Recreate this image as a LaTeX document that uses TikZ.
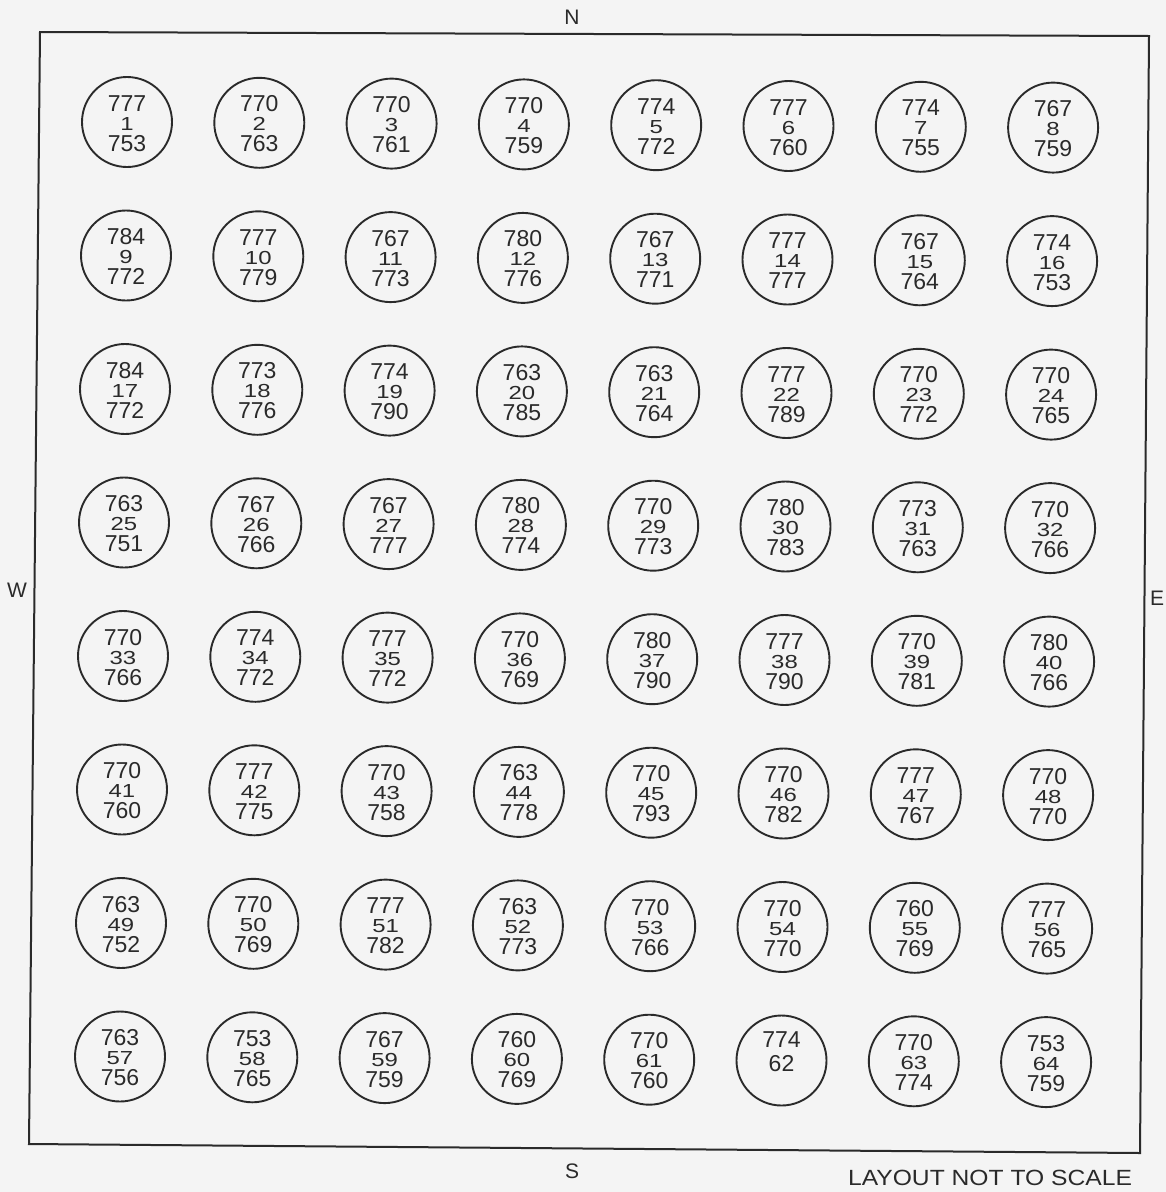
\documentclass[tikz,border=0pt]{standalone}
\usepackage{fontspec}
\setmainfont{Liberation Sans}
\definecolor{ink}{HTML}{2A2A2A}
\definecolor{paper}{HTML}{F4F4F4}
\tikzset{
  well/.style={circle, draw=ink, line width=1.9pt, minimum size=90pt, inner sep=0pt},
  outernum/.style={anchor=base, inner sep=0pt, text=ink, font=\fontsize{23}{23}\selectfont},
  innernum/.style={anchor=base, inner sep=0pt, text=ink, font=\fontsize{23}{23}\selectfont},
  compass/.style={inner sep=0pt, text=ink, font=\fontsize{21}{21}\selectfont},
  frameline/.style={draw=ink, line width=2pt, line join=miter}
}
% #1 well number, #2 column, #3 row, #4 top value, #5 bottom value
\newcommand\wellcell[5]{%
  \pgfmathsetmacro\wx{127+132.3*(#2-1)-1.0*(#3-1)}%
  \pgfmathsetmacro\wy{122+133.5*(#3-1)+0.8*(#2-1)}%
  \node[well] (w#1) at (\wx,\wy) {};
  \node[outernum] (w#1t) at ([yshift=11pt]w#1.center) {#4};
  \node[innernum] (w#1m) at ([yshift=-8pt]w#1.center) {\scalebox{1.04}[0.82]{#1}};
  \node[outernum] (w#1b) at ([yshift=-29pt]w#1.center) {#5};
}
\begin{document}
\begin{tikzpicture}[x=1pt,y=-1pt]
\useasboundingbox (0,0) rectangle (1166,1192);
\fill[paper] (0,0) rectangle (1166,1192);
\draw[frameline] (40,32) -- (1149,36) -- (1140,1153) -- (29,1144) -- cycle;
\node[compass] (north) at (572,17) {N};
\node[compass] (south) at (572,1171) {S};
\node[compass] (west) at (17,590) {W};
\node[compass] (east) at (1157,598) {E};
\node[inner sep=0pt, text=ink, font=\fontsize{22}{22}\selectfont] (note) at (990,1178) {\scalebox{1.12}[1]{LAYOUT NOT TO SCALE}};
% row 1
\wellcell{1}{1}{1}{777}{753}
\wellcell{2}{2}{1}{770}{763}
\wellcell{3}{3}{1}{770}{761}
\wellcell{4}{4}{1}{770}{759}
\wellcell{5}{5}{1}{774}{772}
\wellcell{6}{6}{1}{777}{760}
\wellcell{7}{7}{1}{774}{755}
\wellcell{8}{8}{1}{767}{759}
% row 2
\wellcell{9}{1}{2}{784}{772}
\wellcell{10}{2}{2}{777}{779}
\wellcell{11}{3}{2}{767}{773}
\wellcell{12}{4}{2}{780}{776}
\wellcell{13}{5}{2}{767}{771}
\wellcell{14}{6}{2}{777}{777}
\wellcell{15}{7}{2}{767}{764}
\wellcell{16}{8}{2}{774}{753}
% row 3
\wellcell{17}{1}{3}{784}{772}
\wellcell{18}{2}{3}{773}{776}
\wellcell{19}{3}{3}{774}{790}
\wellcell{20}{4}{3}{763}{785}
\wellcell{21}{5}{3}{763}{764}
\wellcell{22}{6}{3}{777}{789}
\wellcell{23}{7}{3}{770}{772}
\wellcell{24}{8}{3}{770}{765}
% row 4
\wellcell{25}{1}{4}{763}{751}
\wellcell{26}{2}{4}{767}{766}
\wellcell{27}{3}{4}{767}{777}
\wellcell{28}{4}{4}{780}{774}
\wellcell{29}{5}{4}{770}{773}
\wellcell{30}{6}{4}{780}{783}
\wellcell{31}{7}{4}{773}{763}
\wellcell{32}{8}{4}{770}{766}
% row 5
\wellcell{33}{1}{5}{770}{766}
\wellcell{34}{2}{5}{774}{772}
\wellcell{35}{3}{5}{777}{772}
\wellcell{36}{4}{5}{770}{769}
\wellcell{37}{5}{5}{780}{790}
\wellcell{38}{6}{5}{777}{790}
\wellcell{39}{7}{5}{770}{781}
\wellcell{40}{8}{5}{780}{766}
% row 6
\wellcell{41}{1}{6}{770}{760}
\wellcell{42}{2}{6}{777}{775}
\wellcell{43}{3}{6}{770}{758}
\wellcell{44}{4}{6}{763}{778}
\wellcell{45}{5}{6}{770}{793}
\wellcell{46}{6}{6}{770}{782}
\wellcell{47}{7}{6}{777}{767}
\wellcell{48}{8}{6}{770}{770}
% row 7
\wellcell{49}{1}{7}{763}{752}
\wellcell{50}{2}{7}{770}{769}
\wellcell{51}{3}{7}{777}{782}
\wellcell{52}{4}{7}{763}{773}
\wellcell{53}{5}{7}{770}{766}
\wellcell{54}{6}{7}{770}{770}
\wellcell{55}{7}{7}{760}{769}
\wellcell{56}{8}{7}{777}{765}
% row 8
\wellcell{57}{1}{8}{763}{756}
\wellcell{58}{2}{8}{753}{765}
\wellcell{59}{3}{8}{767}{759}
\wellcell{60}{4}{8}{760}{769}
\wellcell{61}{5}{8}{770}{760}
\pgfmathsetmacro\wx{127+132.3*5-1.0*7}
\pgfmathsetmacro\wy{122+133.5*7+0.8*5}
\node[well] (w62) at (\wx,\wy) {};
\node[outernum] (w62t) at ([yshift=13pt]w62.center) {774};
\node[outernum] (w62m) at ([yshift=-11pt]w62.center) {62};
\wellcell{63}{7}{8}{770}{774}
\wellcell{64}{8}{8}{753}{759}
\end{tikzpicture}
\end{document}
